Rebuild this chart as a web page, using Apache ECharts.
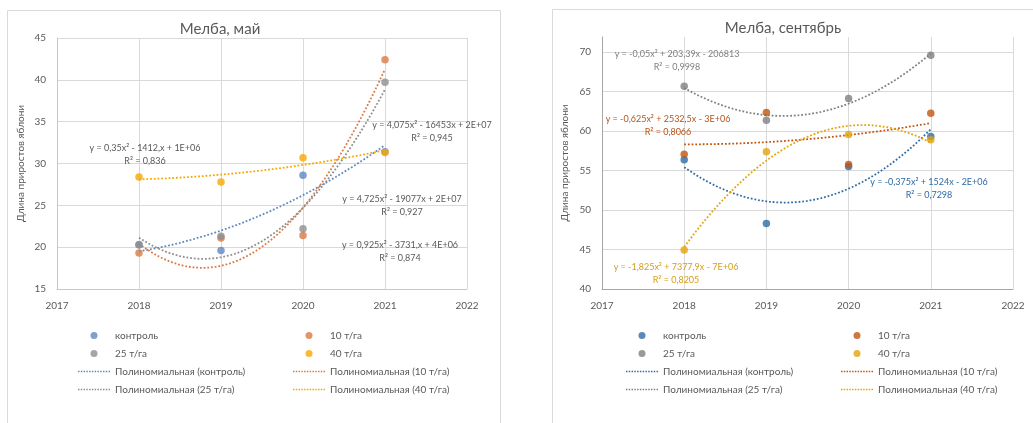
<!DOCTYPE html>
<html><head><meta charset="utf-8">
<script src="https://cdn.jsdelivr.net/npm/echarts@6/dist/echarts.min.js"></script>
<style>html,body{margin:0;padding:0;background:#fff;overflow:hidden}
#c1,#c2{position:absolute;left:0;top:0;width:1033px;height:423px;}</style>
</head><body><div id="c1"></div><div id="c2"></div>
<script>
// ---------- data ----------
const years = [2018, 2019, 2020, 2021];
const groupNames = ['контроль', '10 т/га', '25 т/га', '40 т/га'];
const trendNames = ['Полиномиальная (контроль)', 'Полиномиальная (10 т/га)', 'Полиномиальная (25 т/га)', 'Полиномиальная (40 т/га)'];
const xTicks = [2017, 2018, 2019, 2020, 2021, 2022];
const mayYTicks = [15, 20, 25, 30, 35, 40, 45];
const sepYTicks = [40, 45, 50, 55, 60, 65, 70];

const mayControl = [20.3, 19.6, 28.6, 31.4];
const may10 = [19.3, 21.1, 21.4, 42.4];
const may25 = [20.3, 21.3, 22.2, 39.7];
const may40 = [28.4, 27.8, 30.7, 31.3];

const sepControl = [56.35, 48.3, 55.5, 59.3];
const sep10 = [57.07, 62.33, 55.75, 62.25];
const sep25 = [65.66, 61.37, 64.1, 69.6];
const sep40 = [44.95, 57.36, 59.55, 58.9];

const mayTitle = 'Мелба, май';
const sepTitle = 'Мелба, сентябрь';
const yName = 'Длина приростов яблони';

const mayEq = [
  ['y = 0,925x² - 3731,x + 4E+06', 'R² = 0,874'],
  ['y = 4,725x² - 19077x + 2E+07', 'R² = 0,927'],
  ['y = 4,075x² - 16453x + 2E+07', 'R² = 0,945'],
  ['y = 0,35x² - 1412,x + 1E+06', 'R² = 0,836']
];
const sepEq = [
  ['y = -0,375x² + 1524x - 2E+06', 'R² = 0,7298'],
  ['y = -0,625x² + 2532,5x - 3E+06', 'R² = 0,8066'],
  ['y = -0,05x² + 203,39x - 206813', 'R² = 0,9998'],
  ['y = -1,825x² + 7377,9x - 7E+06', 'R² = 0,8205']
];

// ---------- helpers ----------
function quadFit(xs, ys) {
  const xm = xs.reduce((a, b) => a + b, 0) / xs.length;
  const t = xs.map(x => x - xm);
  const S = k => t.reduce((a, v) => a + Math.pow(v, k), 0);
  const T = k => t.reduce((a, v, i) => a + Math.pow(v, k) * ys[i], 0);
  const A = [[S(0), S(1), S(2)], [S(1), S(2), S(3)], [S(2), S(3), S(4)]];
  const B = [T(0), T(1), T(2)];
  for (let i = 0; i < 3; i++) {
    for (let j = i + 1; j < 3; j++) {
      const f = A[j][i] / A[i][i];
      for (let k = i; k < 3; k++) A[j][k] -= f * A[i][k];
      B[j] -= f * B[i];
    }
  }
  const c = [0, 0, 0];
  for (let i = 2; i >= 0; i--) {
    let s = B[i];
    for (let k = i + 1; k < 3; k++) s -= A[i][k] * c[k];
    c[i] = s / A[i][i];
  }
  return x => c[0] + c[1] * (x - xm) + c[2] * (x - xm) * (x - xm);
}
function trendData(vals) {
  const f = quadFit(years, vals);
  const out = [];
  const x0 = years[0], x1 = years[years.length - 1], n = 90;
  for (let i = 0; i <= n; i++) {
    const x = x0 + (x1 - x0) * i / n;
    out.push([x, f(x)]);
  }
  return out;
}

// dotted-line legend icon
let dotPath = 'path://';
for (let i = 0; i < 12; i++) dotPath += 'M' + (i * 3) + ' 0h1.6v1.4h-1.6z';

const FONT = 'Lato, "Open Sans", sans-serif';
const TXT = '#595959';

function buildOption(cfg) {
  const series = [];
  cfg.values.forEach((vals, i) => {
    series.push({
      type: 'line', name: trendNames[i], data: trendData(vals),
      showSymbol: false, symbol: 'none', silent: true, z: 2,
      lineStyle: { color: cfg.colors[i], width: 1.8, type: [1.8, 1.9] },
      itemStyle: { color: cfg.colors[i] }
    });
  });
  cfg.values.forEach((vals, i) => {
    series.push({
      type: 'scatter', name: groupNames[i],
      data: years.map((y, k) => [y, vals[k]]),
      symbol: 'circle', symbolSize: 7.5, z: cfg.zOrder[i],
      itemStyle: { color: cfg.colors[i] }
    });
  });
  const legendItem = (n, isScatter) => isScatter ? { name: n, icon: 'circle' } : { name: n, icon: dotPath };
  const legBase = {
    orient: 'vertical', top: 329, padding: 0, itemWidth: 32, itemHeight: 7, itemGap: 5,
    textStyle: { fontSize: 10, color: TXT, fontFamily: FONT, lineHeight: 13 },
    selectedMode: false
  };
  const graphics = [
    { type: 'rect', shape: cfg.frame, style: { fill: 'none', stroke: '#d9d9d9', lineWidth: 1 }, silent: true },
    { type: 'text', x: cfg.titlePos[0], y: cfg.titlePos[1],
      style: { text: cfg.title, fill: TXT, font: '15px ' + FONT, align: 'center', verticalAlign: 'middle' } }
  ];
  cfg.eqs.forEach((eq, i) => {
    const p = cfg.eqPos[i];
    graphics.push({ type: 'text', x: p[0], y: p[1], z: 10,
      style: { text: eq[0], fill: cfg.eqColors[i], font: '9px ' + FONT, align: 'center', verticalAlign: 'middle' } });
    graphics.push({ type: 'text', x: p[0], y: p[1] + 13, z: 10,
      style: { text: eq[1], fill: cfg.eqColors[i], font: '9px ' + FONT, align: 'center', verticalAlign: 'middle' } });
  });
  const yt = cfg.yTicks;
  const nLines = yt.length + (cfg.yMax > yt[yt.length - 1] ? 1 : 0);
  const splitColors = [];
  for (let i = 0; i < nLines; i++) splitColors.push(i < yt.length ? '#d9d9d9' : 'rgba(0,0,0,0)');
  return {
    animation: false,
    textStyle: { fontFamily: FONT },
    grid: cfg.grid,
    xAxis: {
      type: 'value', min: xTicks[0], max: xTicks[xTicks.length - 1], interval: 1,
      axisLine: { show: true, lineStyle: { color: cfg.axisColor } },
      axisTick: { show: false },
      splitLine: { show: true, lineStyle: { color: '#d9d9d9' } },
      axisLabel: { margin: 12, fontSize: 10, color: TXT, fontFamily: FONT, formatter: v => String(v) }
    },
    yAxis: {
      type: 'value', min: yt[0], max: cfg.yMax, interval: 5,
      name: yName, nameLocation: 'middle', nameRotate: 90, nameGap: cfg.nameGap,
      nameTextStyle: { fontSize: 10, color: TXT, fontFamily: FONT },
      axisLine: { show: true, lineStyle: { color: cfg.axisColor } },
      axisTick: { show: false },
      splitLine: { show: true, lineStyle: { color: splitColors } },
      axisLabel: { margin: 11, fontSize: 10, color: TXT, fontFamily: FONT,
        formatter: v => (yt.indexOf(v) >= 0 ? String(v) : '') }
    },
    legend: [
      Object.assign({}, legBase, { left: cfg.legLeft[0],
        data: [legendItem(groupNames[0], true), legendItem(groupNames[2], true), legendItem(trendNames[0]), legendItem(trendNames[2])] }),
      Object.assign({}, legBase, { left: cfg.legLeft[1],
        data: [legendItem(groupNames[1], true), legendItem(groupNames[3], true), legendItem(trendNames[1]), legendItem(trendNames[3])] })
    ],
    graphic: graphics,
    series: series
  };
}

const mayChart = echarts.init(document.getElementById('c1'), null, { renderer: 'canvas' });
mayChart.setOption(buildOption({
  values: [mayControl, may10, may25, may40],
  colors: ['#5f88c0', '#d97a45', '#8e8e8e', '#f7a700'],
  zOrder: [3, 4, 5, 6],
  yTicks: mayYTicks, yMax: 45,
  grid: { left: 57, right: 1033 - 467, top: 38, bottom: 423 - 289 },
  axisColor: '#c8c8c8', nameGap: 31,
  legLeft: [78, 293],
  frame: { x: 7.5, y: 10.5, width: 493, height: 440 },
  title: mayTitle, titlePos: [220, 29],
  eqs: mayEq,
  eqPos: [[400, 245], [402, 199], [432, 125], [145, 148]],
  eqColors: [TXT, TXT, TXT, TXT]
}));

const sepChart = echarts.init(document.getElementById('c2'), null, { renderer: 'canvas' });
sepChart.setOption(buildOption({
  values: [sepControl, sep10, sep25, sep40],
  colors: ['#2f6ca8', '#c0560f', '#808080', '#e3a30b'],
  zOrder: [3, 5, 4, 6],
  yTicks: sepYTicks, yMax: 71.9,
  grid: { left: 602, right: 1033 - 1013, top: 37, bottom: 423 - 289 },
  axisColor: '#a6a6a6', nameGap: 32,
  legLeft: [626, 841],
  frame: { x: 552.5, y: 9.5, width: 500, height: 440 },
  title: sepTitle, titlePos: [783, 28],
  eqs: sepEq,
  eqPos: [[929, 182], [668, 119], [677, 54], [676, 267]],
  eqColors: ['#2e6aa6', '#b5541a', '#7f7f7f', '#d69e14']
}));
</script></body></html>
